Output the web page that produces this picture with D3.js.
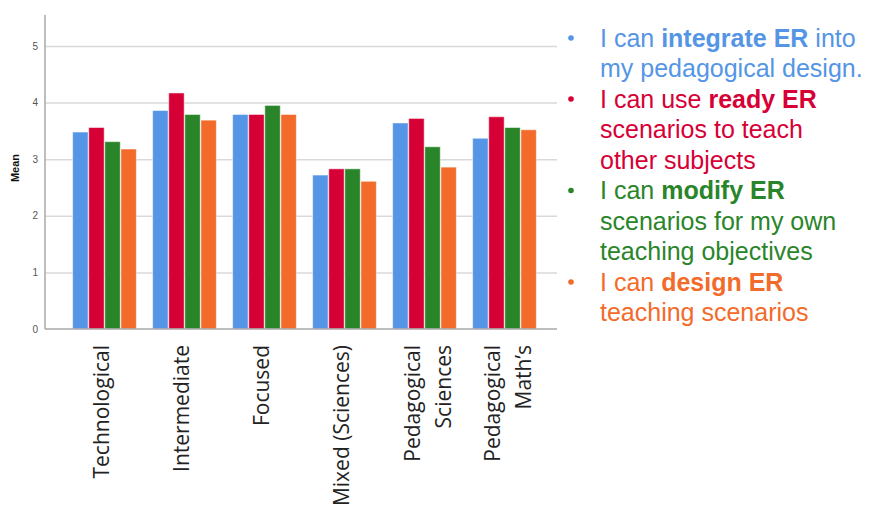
<!DOCTYPE html>
<html>
<head>
<meta charset="utf-8">
<script src="https://cdn.jsdelivr.net/npm/d3@7"></script>
<style>
  body { margin: 0; background: #fff; }
  svg { display: block; }
  .grid line { stroke: #d9d9d9; stroke-width: 1.5; }
  .grid .domain { display: none; }
</style>
</head>
<body>
<div id="chart"></div>
<script>
// school types on the x axis (each label split into lines)
var categories = ["Technological", "Intermediate", "Focused", "Mixed (Sciences)", "Pedagogical Sciences", "Pedagogical Math’s"];
var categoryLines = [["Technological"], ["Intermediate"], ["Focused"], ["Mixed (Sciences)"], ["Pedagogical", "Sciences"], ["Pedagogical", "Math’s"]];
var seriesNames = ["integrate", "ready", "modify", "design"];

// mean values
var integrateER = [3.48, 3.86, 3.79, 2.72, 3.64, 3.37];
var readyER     = [3.56, 4.17, 3.79, 2.83, 3.72, 3.75];
var modifyER    = [3.31, 3.79, 3.95, 2.83, 3.22, 3.56];
var designER    = [3.18, 3.69, 3.79, 2.61, 2.86, 3.52];
var yTicks = [0, 1, 2, 3, 4, 5];

var colors = ["#5595e5", "#d60036", "#2a852a", "#f26b2b"];

// legend text: [normal, bold, normal] per line
var legendItems = [
  [["I can ", "integrate ER", " into"], ["my pedagogical design.", "", ""]],
  [["I can use ", "ready ER", ""], ["scenarios to teach", "", ""], ["other subjects", "", ""]],
  [["I can ", "modify ER", ""], ["scenarios for my own", "", ""], ["teaching objectives", "", ""]],
  [["I can ", "design ER", ""], ["teaching scenarios", "", ""]]
];

var values = [integrateER, readyER, modifyER, designER];

var W = 870, H = 512;
var svg = d3.select("#chart").append("svg")
    .attr("width", W)
    .attr("height", H);

var y = d3.scaleLinear()
    .domain([0, 5])
    .range([329, 46]);

var x0 = d3.scaleBand()
    .domain(categories)
    .range([72, 537])
    .paddingInner(0.1875)
    .paddingOuter(0);

var x1 = d3.scaleBand()
    .domain(seriesNames)
    .range([0, x0.bandwidth()])
    .padding(0.04);

// gridlines
svg.append("g")
    .attr("class", "grid")
    .attr("transform", "translate(45,0)")
    .call(d3.axisRight(y).tickValues(yTicks.slice(1)).tickSize(512).tickFormat(""));

// y axis
svg.append("line")
    .attr("x1", 45).attr("x2", 45)
    .attr("y1", 15).attr("y2", y(0))
    .attr("stroke", "#a8a8a8").attr("stroke-width", 1.5);

svg.append("g").selectAll("text")
    .data(yTicks)
  .enter().append("text")
    .attr("x", 38)
    .attr("y", function(d) { return y(d); })
    .attr("dy", "0.35em")
    .attr("text-anchor", "end")
    .style("font", "10px 'Liberation Sans', Arial, sans-serif")
    .style("fill", "#555")
    .text(function(d) { return d; });

svg.append("text")
    .attr("transform", "translate(19,168) rotate(-90)")
    .attr("text-anchor", "middle")
    .style("font", "bold 11px 'Liberation Sans', Arial, sans-serif")
    .style("fill", "#111")
    .text("Mean");

// bars
var groups = svg.append("g").selectAll("g")
    .data(categories)
  .enter().append("g")
    .attr("transform", function(d) { return "translate(" + x0(d) + ",0)"; });

groups.selectAll("rect")
    .data(function(d, i) {
      return seriesNames.map(function(s, j) { return {s: s, j: j, v: values[j][i]}; });
    })
  .enter().append("rect")
    .attr("x", function(d) { return x1(d.s); })
    .attr("y", function(d) { return y(d.v); })
    .attr("width", x1.bandwidth())
    .attr("height", function(d) { return y(0) - y(d.v); })
    .attr("fill", function(d) { return colors[d.j]; })
    .attr("stroke", "#fff")
    .attr("stroke-opacity", 0.5)
    .attr("stroke-width", 1);

// x axis line
svg.append("line")
    .attr("x1", 45).attr("x2", 557)
    .attr("y1", y(0)).attr("y2", y(0))
    .attr("stroke", "#a8a8a8").attr("stroke-width", 1.5);

// x labels, rotated
var labels = svg.append("g").selectAll("g")
    .data(categories)
  .enter().append("g");

labels.each(function(d, i) {
  var lines = categoryLines[i];
  var cx = x0(d) + x0.bandwidth() / 2 + (lines.length > 1 ? 4 : -3);
  lines.forEach(function(t, k) {
    var lx = cx + (k - (lines.length - 1) / 2) * 31;
    d3.select(this).append("text")
      .attr("transform", "translate(" + lx + ",345) rotate(-90)")
      .attr("text-anchor", "end")
      .attr("dy", "0.35em")
      .style("font", "21px 'Open Sans', sans-serif")
      .style("fill", "#222")
      .text(t);
  }, this);
});

// legend
var lineH = 30.5;
var ly = 38;
var legend = svg.append("g");
legendItems.forEach(function(item, i) {
  legend.append("circle")
    .attr("cx", 571).attr("cy", ly)
    .attr("r", 2.8)
    .attr("fill", colors[i]);
  item.forEach(function(parts) {
    var t = legend.append("text")
      .attr("x", 600).attr("y", ly)
      .attr("dy", "0.35em")
      .style("font", "25px 'Liberation Sans', Arial, sans-serif")
      .style("fill", colors[i]);
    t.append("tspan").text(parts[0]);
    if (parts[1]) t.append("tspan").style("font-weight", "bold").text(parts[1]);
    if (parts[2]) t.append("tspan").text(parts[2]);
    ly += lineH;
  });
});
</script>
</body>
</html>
